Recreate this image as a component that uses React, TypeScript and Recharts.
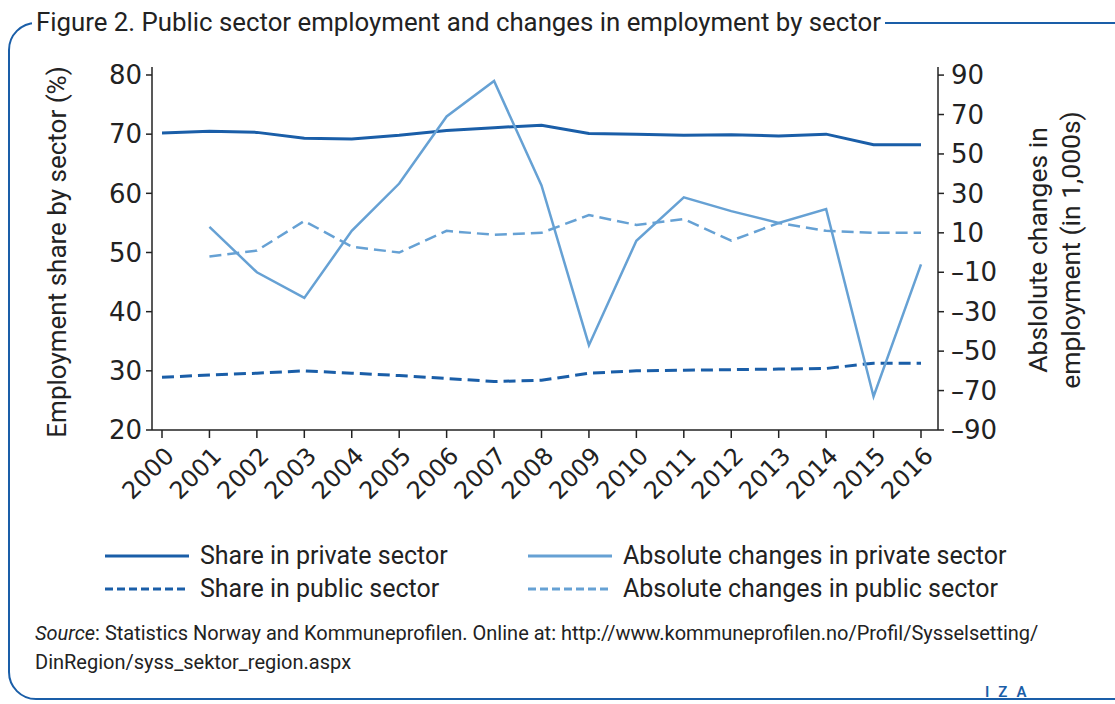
import React from "react";
import { LineChart, Line, XAxis, YAxis } from "recharts";

const years = [
  "2000", "2001", "2002", "2003", "2004", "2005", "2006", "2007", "2008",
  "2009", "2010", "2011", "2012", "2013", "2014", "2015", "2016",
];
const privateShare = [70.2, 70.5, 70.3, 69.3, 69.2, 69.8, 70.6, 71.1, 71.5, 70.1, 70.0, 69.8, 69.9, 69.7, 70.0, 68.2, 68.2];
const publicShare = [28.9, 29.3, 29.6, 30.0, 29.6, 29.2, 28.7, 28.2, 28.4, 29.6, 30.0, 30.1, 30.2, 30.3, 30.4, 31.3, 31.3];
const privateChange = [null, 13, -10, -23, 11, 35, 69, 87, 34, -47, 6, 28, 21, 15, 22, -73, -6];
const publicChange = [null, -2, 1, 16, 3, 0, 11, 9, 10, 19, 14, 17, 6, 15, 11, 10, 10];
const leftTicks = [20, 30, 40, 50, 60, 70, 80];
const rightTicks = [-90, -70, -50, -30, -10, 10, 30, 50, 70, 90];

const DARK = "#1a5ea8";
const LIGHT = "#66a1d4";
const FONT = "Roboto, 'Noto Sans', sans-serif";
const TICK_FONT = "'DejaVu Sans', sans-serif";

const data = years.map((year, i) => ({
  year,
  privateShare: privateShare[i],
  publicShare: publicShare[i],
  privateChange: privateChange[i],
  publicChange: publicChange[i],
}));

const fmtMinus = (v: number) => (v < 0 ? `\u2013${-v}` : `${v}`);

function YearTick(props: any) {
  const { x, y, payload } = props;
  return (
    <text
      transform={`translate(${x + 1},${y + 5}) rotate(-45)`}
      textAnchor="end"
      dominantBaseline="hanging"
      fontSize={24}
      fill="#222"
      fontFamily={TICK_FONT}
    >
      {payload.value}
    </text>
  );
}

function LegendItem({ color, dashed, label }: { color: string; dashed?: boolean; label: string }) {
  return (
    <div style={{ display: "flex", alignItems: "center", height: 33 }}>
      <svg width={84} height={10} style={{ marginRight: 11 }}>
        <line x1={0} y1={5} x2={84} y2={5} stroke={color} strokeWidth={3} strokeDasharray={dashed ? "8 4" : undefined} />
      </svg>
      <span>{label}</span>
    </div>
  );
}

export default function App() {
  return (
    <div
      style={{
        position: "absolute",
        left: 0,
        top: 0,
        width: 1115,
        height: 704,
        overflow: "hidden",
        background: "#fff",
        fontFamily: FONT,
        color: "#222",
      }}
    >
      {/* frame */}
      <div
        style={{
          position: "absolute",
          left: 8,
          top: 22,
          width: 1140,
          height: 678,
          border: `2px solid ${DARK}`,
          borderRadius: 28,
          boxSizing: "border-box",
        }}
      />
      <div
        style={{
          position: "absolute",
          left: 32,
          top: 5,
          padding: "0 4px",
          background: "#fff",
          fontSize: 25.8,
          lineHeight: "34px",
          whiteSpace: "nowrap",
        }}
      >
        Figure 2. Public sector employment and changes in employment by sector
      </div>

      <div style={{ position: "absolute", left: 0, top: 0 }}>
        <LineChart
          width={1115}
          height={540}
          data={data}
          margin={{ top: 67, right: 117, bottom: 80, left: 92 }}
        >
          <XAxis
            dataKey="year"
            interval={0}
            padding={{ left: 10, right: 17 }}
            tick={<YearTick />}
            tickSize={8}
            axisLine={{ stroke: "#222", strokeWidth: 1.5 }}
            tickLine={{ stroke: "#222", strokeWidth: 1.5 }}
            height={30}
          />
          <YAxis
            yAxisId="left"
            width={60}
            domain={[20, 81.35]}
            ticks={leftTicks}
            allowDataOverflow
            tickSize={6}
            tickMargin={4}
            tick={{ fontSize: 26, fill: "#222", fontFamily: TICK_FONT }}
            axisLine={{ stroke: "#222", strokeWidth: 1.5 }}
            tickLine={{ stroke: "#222", strokeWidth: 1.5 }}
            label={() => (
              <text
                transform="translate(66,252) rotate(-90)"
                textAnchor="middle"
                fontSize={26}
                fill="#222"
                fontFamily={FONT}
              >
                Employment share by sector (%)
              </text>
            )}
          />
          <YAxis
            yAxisId="right"
            orientation="right"
            width={60}
            domain={[-90, 94.1]}
            ticks={rightTicks}
            allowDataOverflow
            tickSize={6}
            tickMargin={7}
            tickFormatter={fmtMinus}
            tick={{ fontSize: 26, fill: "#222", fontFamily: TICK_FONT, textAnchor: "start" }}
            axisLine={{ stroke: "#222", strokeWidth: 1.5 }}
            tickLine={{ stroke: "#222", strokeWidth: 1.5 }}
            label={() => (
              <text
                transform="translate(1047,250) rotate(-90)"
                textAnchor="middle"
                fontSize={26.5}
                fill="#222"
                fontFamily={FONT}
              >
                <tspan x={0} dy={0}>Abslolute changes in</tspan>
                <tspan x={0} dy={33}>employment (in 1,000s)</tspan>
              </text>
            )}
          />
          <Line
            yAxisId="left"
            dataKey="privateShare"
            stroke={DARK}
            strokeWidth={3}
            dot={false}
            isAnimationActive={false}
          />
          <Line
            yAxisId="left"
            dataKey="publicShare"
            stroke={DARK}
            strokeWidth={3}
            strokeDasharray="12 6"
            dot={false}
            isAnimationActive={false}
          />
          <Line
            yAxisId="right"
            dataKey="privateChange"
            stroke={LIGHT}
            strokeWidth={2.5}
            dot={false}
            isAnimationActive={false}
          />
          <Line
            yAxisId="right"
            dataKey="publicChange"
            stroke={LIGHT}
            strokeWidth={2.5}
            strokeDasharray="12 6"
            dot={false}
            isAnimationActive={false}
          />
        </LineChart>
      </div>

      {/* legend */}
      <div style={{ position: "absolute", left: 105, top: 539, fontSize: 25 }}>
        <LegendItem color={DARK} label="Share in private sector" />
        <LegendItem color={DARK} dashed label="Share in public sector" />
      </div>
      <div style={{ position: "absolute", left: 528, top: 539, fontSize: 25 }}>
        <LegendItem color={LIGHT} label="Absolute changes in private sector" />
        <LegendItem color={LIGHT} dashed label="Absolute changes in public sector" />
      </div>

      {/* source */}
      <div style={{ position: "absolute", left: 35, top: 619, fontSize: 20, lineHeight: "29px", width: 1070 }}>
        <i>Source</i>: Statistics Norway and Kommuneprofilen. Online at: http://www.kommuneprofilen.no/Profil/Sysselsetting/
        <br />
        DinRegion/syss_sektor_region.aspx
      </div>
      <div
        style={{
          position: "absolute",
          left: 985,
          top: 683,
          fontSize: 15,
          letterSpacing: 9,
          color: DARK,
          fontWeight: 600,
        }}
      >
        IZA
      </div>
    </div>
  );
}
